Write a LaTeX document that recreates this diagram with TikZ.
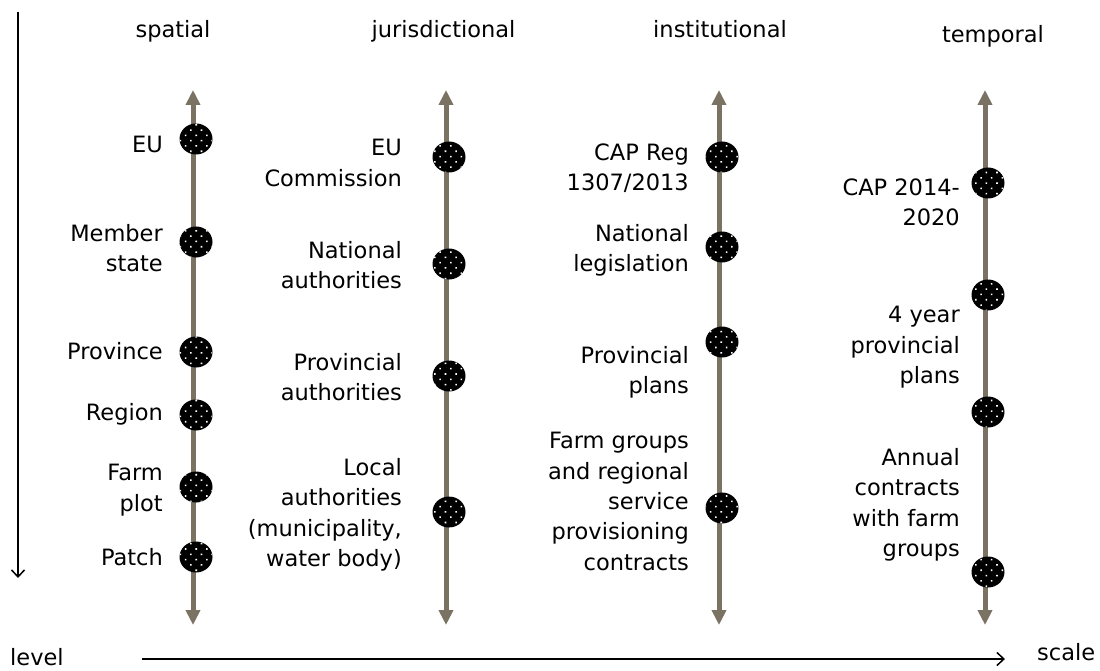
\documentclass[tikz,border=0pt]{standalone}
\usepackage{fontspec}
\setmainfont{DejaVu Sans}
\usetikzlibrary{arrows.meta,shapes.geometric,patterns.meta}
\definecolor{axiscol}{HTML}{7A7262}
\begin{document}
\begin{tikzpicture}[x=1pt,y=-1pt,
  every node/.style={font=\fontsize{22.5}{30.3}\selectfont, inner sep=0pt},
  lbl/.style={anchor=north east, align=right},
  hdr/.style={anchor=base},
  dotnode/.style={ellipse, minimum width=33pt, minimum height=31pt, fill=black,
    postaction={pattern={Dots[radius=1.1pt,distance=7.5pt,angle=45]}, pattern color=white}},
  axisline/.style={line width=5pt, draw=axiscol,
    {Triangle[width=14pt,length=15pt,fill=axiscol]}-{Triangle[width=14pt,length=15pt,fill=axiscol]}},
  frame/.style={line width=1.5pt, -{Straight Barb[length=7pt,width=13pt]}}
]
\useasboundingbox (0,0) rectangle (1100,671);

% frame arrows
\coordinate (vTop) at (18,12);
\coordinate (vBot) at (18,578);
\draw[frame] (vTop) -- (vBot);
\coordinate (hL) at (142,659);
\coordinate (hR) at (1005,659);
\draw[frame] (hL) -- (hR);
\node[anchor=base west] (level) at (10,665) {level};
\node[anchor=base west] (scale) at (1037,660) {scale};

% headers
\node[hdr] (hS) at (173,38) {spatial};
\node[hdr] (hJ) at (443.5,38) {jurisdictional};
\node[hdr] (hI) at (720,38) {institutional};
\node[hdr] (hT) at (993,43) {temporal};

% axes
\coordinate (sTop) at (193,90);  \coordinate (sBot) at (193,625);
\coordinate (jTop) at (446,90);  \coordinate (jBot) at (446,625);
\coordinate (iTop) at (719,90);  \coordinate (iBot) at (719,625);
\coordinate (tTop) at (985,90);  \coordinate (tBot) at (985,625);
\draw[axisline] (sBot) -- (sTop);
\draw[axisline] (jBot) -- (jTop);
\draw[axisline] (iBot) -- (iTop);
\draw[axisline] (tBot) -- (tTop);

% spatial
\node[dotnode] (s1) at (196,139) {};
\node[dotnode] (s2) at (196,242) {};
\node[dotnode] (s3) at (196,352) {};
\node[dotnode] (s4) at (196,415) {};
\node[dotnode] (s5) at (196,487) {};
\node[dotnode] (s6) at (196,557) {};
\node[lbl] (ls1) at (163,136.3) {EU};
\node[lbl] (ls2) at (163,224) {Member\\state};
\node[lbl] (ls3) at (163,342.3) {Province};
\node[lbl] (ls4) at (163,403.3) {Region};
\node[lbl] (ls5) at (163,464.3) {Farm\\plot};
\node[lbl] (ls6) at (163,548.3) {Patch};

% jurisdictional
\node[dotnode] (j1) at (449,157) {};
\node[dotnode] (j2) at (449,264) {};
\node[dotnode] (j3) at (449,376) {};
\node[dotnode] (j4) at (449,512) {};
\node[lbl] (lj1) at (402,139.3) {EU\\Commission};
\node[lbl] (lj2) at (402,241.3) {National\\authorities};
\node[lbl] (lj3) at (402,353.3) {Provincial\\authorities};
\node[lbl] (lj4) at (402,458.3) {Local\\authorities\\(municipality,\\water body)};

% institutional
\node[dotnode] (i1) at (722,157) {};
\node[dotnode] (i2) at (722,247) {};
\node[dotnode] (i3) at (722,342) {};
\node[dotnode] (i4) at (722,508) {};
\node[lbl] (li1) at (689,143.3) {CAP Reg\\1307/2013};
\node[lbl] (li2) at (689,224.3) {National\\legislation};
\node[lbl] (li3) at (689,346.3) {Provincial\\plans};
\node[lbl] (li4) at (689,432.3) {Farm groups\\and regional\\service\\provisioning\\contracts};

% temporal
\node[dotnode] (t1) at (988,183) {};
\node[dotnode] (t2) at (988,295) {};
\node[dotnode] (t3) at (988,412) {};
\node[dotnode] (t4) at (988,572) {};
\node[lbl] (lt1) at (960,178.3) {CAP 2014-\\2020};
\node[lbl] (lt2) at (960,306.3) {4 year\\provincial\\plans};
\node[lbl] (lt4) at (960,448.3) {Annual\\contracts\\with farm\\groups};
\end{tikzpicture}
\end{document}
